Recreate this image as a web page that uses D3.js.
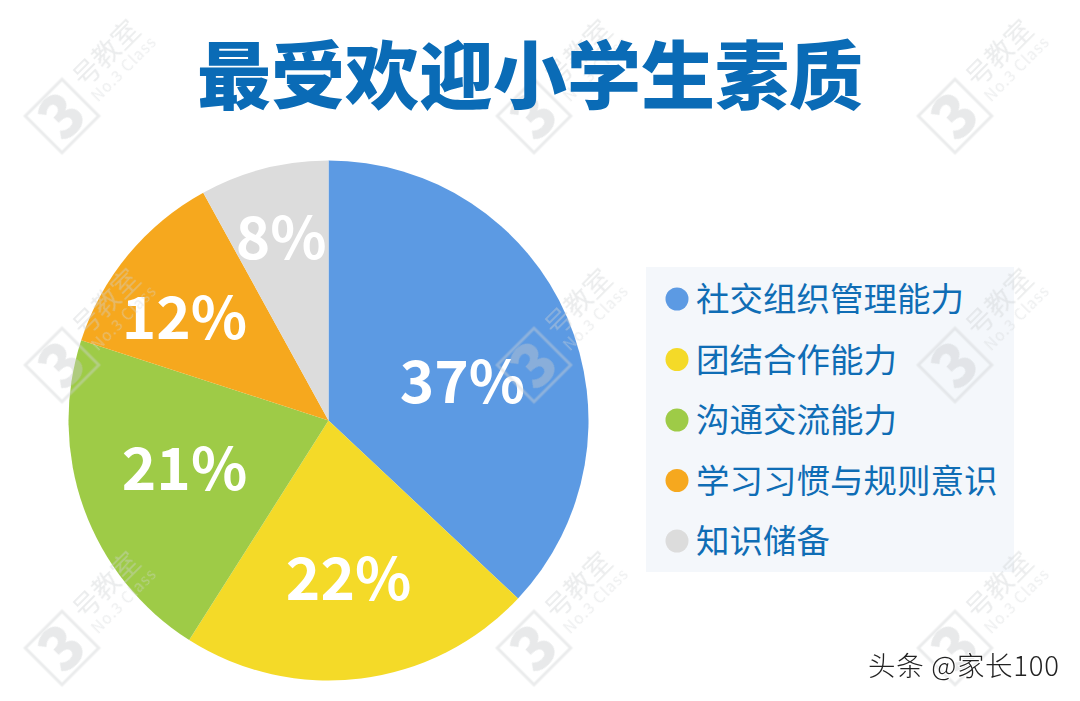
<!DOCTYPE html>
<html>
<head>
<meta charset="utf-8">
<script src="https://cdn.jsdelivr.net/npm/d3@7/dist/d3.min.js"></script>
<style>
  html, body { margin: 0; padding: 0; background: #fff; }
  svg { display: block; }
  text { font-family: "Noto Sans CJK SC", sans-serif; }
</style>
</head>
<body>
<svg id="chart" width="1080" height="701"></svg>
<script>
const categories = ["社交组织管理能力", "团结合作能力", "沟通交流能力", "学习习惯与规则意识", "知识储备"];
const values = [37, 22, 21, 12, 8];
const colors = ["#5c9ae3", "#f4da28", "#9ecb47", "#f6a81e", "#dcdcdc"];
const title = "最受欢迎小学生素质";
const credit = "头条 @家长100";

const svg = d3.select("#chart");
const W = 1080, H = 701;
const CX = 328.5, CY = 420.5, R = 260;

// label radius and nudge, one per slice
const labelRadius = [146, 160, 153, 187, 190];
const labelNudge = [[0, 19], [0, 0], [0, -3], [0, 17], [0, 1]];

svg.append("rect").attr("width", W).attr("height", H).attr("fill", "#fff");

// pie
const pie = d3.pie().sort(null).value(d => d);
const arc = d3.arc().innerRadius(0).outerRadius(R);
const arcs = pie(values);

const pieG = svg.append("g").attr("transform", `translate(${CX},${CY})`);
pieG.selectAll("path")
  .data(arcs)
  .join("path")
  .attr("d", arc)
  .attr("fill", (d, i) => colors[i]);

// legend
svg.append("rect")
  .attr("x", 646).attr("y", 267)
  .attr("width", 368).attr("height", 305)
  .attr("fill", "#f4f7fb");

const legendY = d3.scalePoint().domain(categories).range([299, 541]);
const legend = svg.append("g").selectAll("g")
  .data(categories)
  .join("g")
  .attr("transform", d => `translate(0,${legendY(d)})`);
legend.append("circle")
  .attr("cx", 677).attr("r", 11.5)
  .attr("fill", (d, i) => colors[i]);
legend.append("text")
  .attr("x", 696).attr("y", 12)
  .attr("font-size", 33.5)
  .attr("fill", "#0f6db5")
  .text(d => d);

// watermarks sit above the chart
const markX = [62, 534, 955], markY = [116, 365, 648];
const marks = svg.append("g").attr("opacity", 0.42);
markY.forEach(y => markX.forEach(x => {
  const g = marks.append("g").attr("transform", `translate(${x},${y}) rotate(-45)`);
  g.append("rect")
    .attr("x", -26).attr("y", -26).attr("width", 52).attr("height", 52)
    .attr("fill", "none").attr("stroke", "#cfd2d4").attr("stroke-width", 3);
  g.append("text")
    .attr("x", 0).attr("y", 21).attr("text-anchor", "middle")
    .attr("font-size", 60).attr("font-weight", 900)
    .attr("fill", "#c8cbcd").text("3");
  g.append("text")
    .attr("x", 35).attr("y", -3)
    .attr("font-size", 27)
    .attr("fill", "#cfd2d4").text("号教室");
  g.append("text")
    .attr("x", 35).attr("y", 16)
    .attr("font-family", "Open Sans")
    .attr("font-size", 15.5).attr("letter-spacing", 1)
    .attr("fill", "#d5d8da").text("No.3 Class");
}));

// percent labels
pieG.selectAll("text.pct")
  .data(arcs)
  .join("text")
  .attr("class", "pct")
  .attr("transform", (d, i) => {
    const mid = (d.startAngle + d.endAngle) / 2;
    const x = Math.sin(mid) * labelRadius[i] + labelNudge[i][0];
    const y = -Math.cos(mid) * labelRadius[i] + labelNudge[i][1];
    return `translate(${x},${y})`;
  })
  .attr("text-anchor", "middle")
  .attr("dy", "0.36em")
  .attr("font-family", "Open Sans")
  .attr("font-weight", 600)
  .attr("font-size", 58.5)
  .attr("fill", "#fff")
  .text(d => d.value + "%");

// title
svg.append("text")
  .attr("x", 530).attr("y", 103)
  .attr("text-anchor", "middle")
  .attr("font-size", 74)
  .attr("font-weight", 900)
  .attr("fill", "#0a6bb6")
  .text(title);

// credit
svg.append("text")
  .attr("x", 868).attr("y", 676)
  .attr("font-size", 27.5)
  .attr("font-weight", 300)
  .attr("letter-spacing", 0.7)
  .attr("fill", "#222")
  .attr("stroke", "#fff")
  .attr("stroke-width", 2)
  .attr("paint-order", "stroke")
  .text(credit);
</script>
</body>
</html>
